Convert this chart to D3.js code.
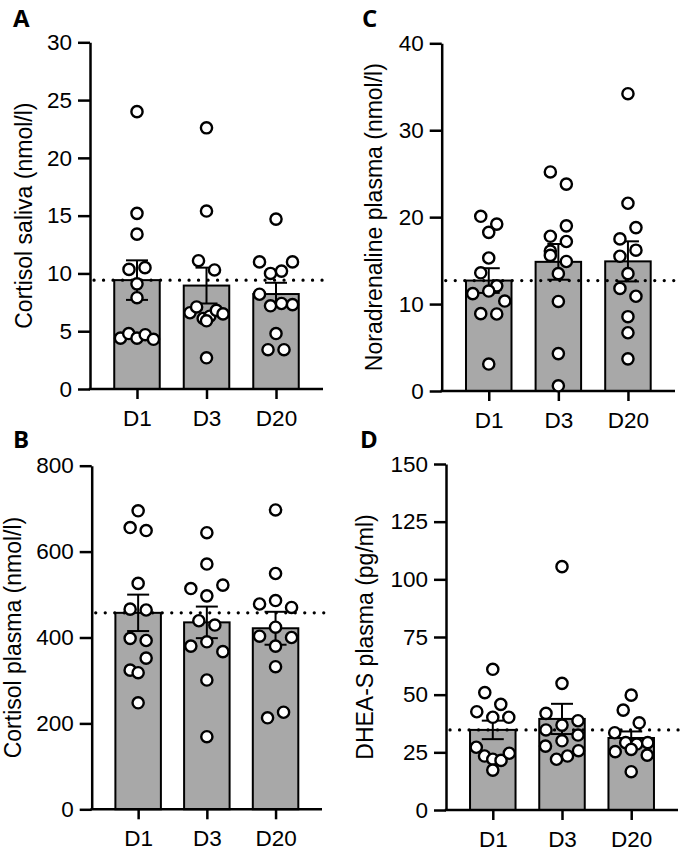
<!DOCTYPE html>
<html>
<head>
<meta charset="utf-8">
<script src="https://cdn.jsdelivr.net/npm/d3@7"></script>
<style>
  body { margin: 0; background: #fff; }
  svg { display: block; }
</style>
</head>
<body>
<script>
const WIDTH = 680;
const HEIGHT = 851;

const days = ['D1', 'D3', 'D20'];

// A - cortisol saliva (nmol/l)
const salivaD1 = [24.0, 15.2, 13.4, 10.35, 10.5, 9.1, 7.9, 4.4, 4.8, 4.4, 4.7, 4.3];
const salivaD3 = [22.6, 15.4, 11.1, 10.3, 6.6, 7.1, 6.1, 6.3, 6.8, 6.5, 5.9, 2.7];
const salivaD20 = [14.7, 11.0, 10.0, 10.2, 11.0, 8.2, 7.2, 7.4, 7.3, 4.8, 3.4, 3.4];
const salivaTicks = [0, 5, 10, 15, 20, 25, 30];

// B - cortisol plasma (nmol/l)
const plasmaD1 = [695, 656, 649, 526, 466, 464, 398, 393, 324, 352, 318, 248];
const plasmaD3 = [644, 571, 514, 497, 522, 439, 429, 380, 390, 367, 301, 169];
const plasmaD20 = [697, 549, 478, 486, 470, 403, 424, 400, 380, 332, 213, 226];
const plasmaTicks = [0, 200, 400, 600, 800];

// C - noradrenaline plasma (nmol/l)
const noradD1 = [20.1, 19.2, 18.25, 15.3, 13.6, 12.1, 11.2, 11.5, 10.35, 8.9, 8.86, 3.1];
const noradD3 = [25.2, 23.8, 17.8, 19.0, 16.1, 17.2, 15.6, 14.9, 13.5, 10.3, 4.3, 0.6];
const noradD20 = [34.2, 21.6, 17.5, 18.8, 15.5, 16.2, 13.5, 11.8, 10.9, 8.55, 6.7, 3.7];
const noradTicks = [0, 10, 20, 30, 40];

// D - DHEA-S plasma (pg/ml)
const dheasD1 = [61.0, 50.9, 45.8, 42.6, 40.2, 40.2, 27.2, 23.4, 22.0, 21.5, 24.6, 17.3];
const dheasD3 = [105.5, 54.9, 41.9, 36.8, 38.7, 34.7, 30.0, 32.5, 27.7, 22.0, 23.4, 25.7];
const dheasD20 = [49.8, 43.3, 33.5, 37.8, 29.2, 28.6, 25.3, 26.3, 23.8, 29.2, 16.6];
const dheasTicks = [0, 25, 50, 75, 100, 125, 150];

var svg = d3.select('body').append('svg')
    .attr('width', WIDTH)
    .attr('height', HEIGHT);

var FONT = "'Liberation Sans', Arial, sans-serif";

// spread points of similar value side by side, rows like prism does it
var swarm = function (values, y, maxWidth) {
    var order = values.map(function (v, i) { return i; })
        .sort(function (a, b) { return values[b] - values[a]; });
    var rows = [];
    var row = null;
    order.forEach(function (i) {
        if (row && Math.abs(y(values[i]) - y(values[row[0]])) < 13.5) {
            row.push(i);
        } else {
            row = [i];
            rows.push(row);
        }
    });
    var offsets = values.map(function () { return 0; });
    rows.forEach(function (r) {
        r.sort(function (a, b) { return a - b; });
        var gap = r.length > 1 ? Math.min(16, maxWidth / (r.length - 1)) : 0;
        r.forEach(function (i, k) {
            offsets[i] = (k - (r.length - 1) / 2) * gap;
        });
    });
    return offsets;
};

var drawPanel = function (p) {
    var g = svg.append('g');

    var x = d3.scalePoint()
        .domain(days)
        .range([p.left, p.right])
        .padding(0.676);
    var y = d3.scaleLinear()
        .domain([0, d3.max(p.ticks)])
        .range([p.bottom, p.top]);

    var barWidth = 45.5;
    var stats = p.groups.map(function (vals, i) {
        return {
            day: days[i],
            values: vals,
            mean: d3.mean(vals),
            se: d3.deviation(vals) / Math.sqrt(vals.length)
        };
    });

    g.selectAll('rect.bar')
        .data(stats)
        .join('rect')
        .attr('class', 'bar')
        .attr('x', function (d) { return x(d.day) - barWidth / 2; })
        .attr('y', function (d) { return y(d.mean); })
        .attr('width', barWidth)
        .attr('height', function (d) { return y(0) - y(d.mean); })
        .attr('fill', '#a8a8a8')
        .attr('stroke', '#000')
        .attr('stroke-width', 2);

    // error bars, mean +/- SEM
    var err = g.selectAll('g.err')
        .data(stats)
        .join('g')
        .attr('class', 'err')
        .attr('stroke', '#000')
        .attr('stroke-width', 2);
    err.append('line')
        .attr('x1', function (d) { return x(d.day); })
        .attr('x2', function (d) { return x(d.day); })
        .attr('y1', function (d) { return y(d.mean - d.se); })
        .attr('y2', function (d) { return y(d.mean + d.se); });
    [-1, 1].forEach(function (s) {
        err.append('line')
            .attr('x1', function (d) { return x(d.day) - 11; })
            .attr('x2', function (d) { return x(d.day) + 11; })
            .attr('y1', function (d) { return y(d.mean + s * d.se); })
            .attr('y2', function (d) { return y(d.mean + s * d.se); });
    });

    // dotted reference line at the D1 mean
    g.append('line')
        .attr('x1', p.left + 4)
        .attr('x2', p.right + 2)
        .attr('y1', y(stats[0].mean))
        .attr('y2', y(stats[0].mean))
        .attr('stroke', '#000')
        .attr('stroke-width', 3.2)
        .attr('stroke-linecap', 'round')
        .attr('stroke-dasharray', '0.1,9.4');

    var yAxis = g.append('g')
        .attr('transform', 'translate(' + p.left + ',0)')
        .call(d3.axisLeft(y).tickValues(p.ticks).tickSize(12).tickSizeOuter(0).tickPadding(6));
    var xAxis = g.append('g')
        .attr('transform', 'translate(0,' + p.bottom + ')')
        .call(d3.axisBottom(x).tickSize(10).tickSizeOuter(0).tickPadding(11));
    [yAxis, xAxis].forEach(function (a) {
        a.attr('font-size', 22.5).attr('font-family', FONT);
        a.selectAll('path, line').attr('stroke', '#000').attr('stroke-width', 2.5);
        a.selectAll('text').attr('fill', '#000');
    });
    xAxis.select('.domain').attr('d', 'M' + (p.left - 1.25) + ',0H' + p.right);

    g.append('text')
        .attr('transform', 'translate(' + p.titleX + ',' + ((p.top + p.bottom) / 2) + ') rotate(-90)')
        .attr('text-anchor', 'middle')
        .attr('font-family', FONT)
        .attr('font-size', 23)
        .text(p.title);

    g.append('text')
        .attr('x', p.letterX)
        .attr('y', p.letterY)
        .attr('font-family', "'Open Sans', 'DejaVu Sans', sans-serif")
        .attr('font-weight', 'bold')
        .attr('font-size', 24)
        .text(p.letter);

    // individual subjects
    stats.forEach(function (s) {
        var offsets = swarm(s.values, y, 33);
        g.append('g')
            .selectAll('circle')
            .data(s.values)
            .join('circle')
            .attr('cx', function (d, i) { return x(s.day) + offsets[i]; })
            .attr('cy', function (d) { return y(d); })
            .attr('r', 5.6)
            .attr('fill', '#fff')
            .attr('stroke', '#000')
            .attr('stroke-width', 2.4);
    });
};

drawPanel({
    letter: 'A', letterX: 13, letterY: 26.5,
    title: 'Cortisol saliva (nmol/l)', titleX: 31.5,
    groups: [salivaD1, salivaD3, salivaD20], ticks: salivaTicks,
    left: 90, right: 323, top: 42.3, bottom: 389
});
drawPanel({
    letter: 'B', letterX: 13, letterY: 448,
    title: 'Cortisol plasma (nmol/l)', titleX: 20.5,
    groups: [plasmaD1, plasmaD3, plasmaD20], ticks: plasmaTicks,
    left: 91.7, right: 322, top: 465.7, bottom: 809.3
});
drawPanel({
    letter: 'C', letterX: 362, letterY: 26.5,
    title: 'Noradrenaline plasma (nmol/l)', titleX: 381.5,
    groups: [noradD1, noradD3, noradD20], ticks: noradTicks,
    left: 441.7, right: 675, top: 43.3, bottom: 391
});
drawPanel({
    letter: 'D', letterX: 360, letterY: 448,
    title: 'DHEA-S plasma (pg/ml)', titleX: 373,
    groups: [dheasD1, dheasD3, dheasD20], ticks: dheasTicks,
    left: 446, right: 678, top: 464, bottom: 810
});
</script>
</body>
</html>
